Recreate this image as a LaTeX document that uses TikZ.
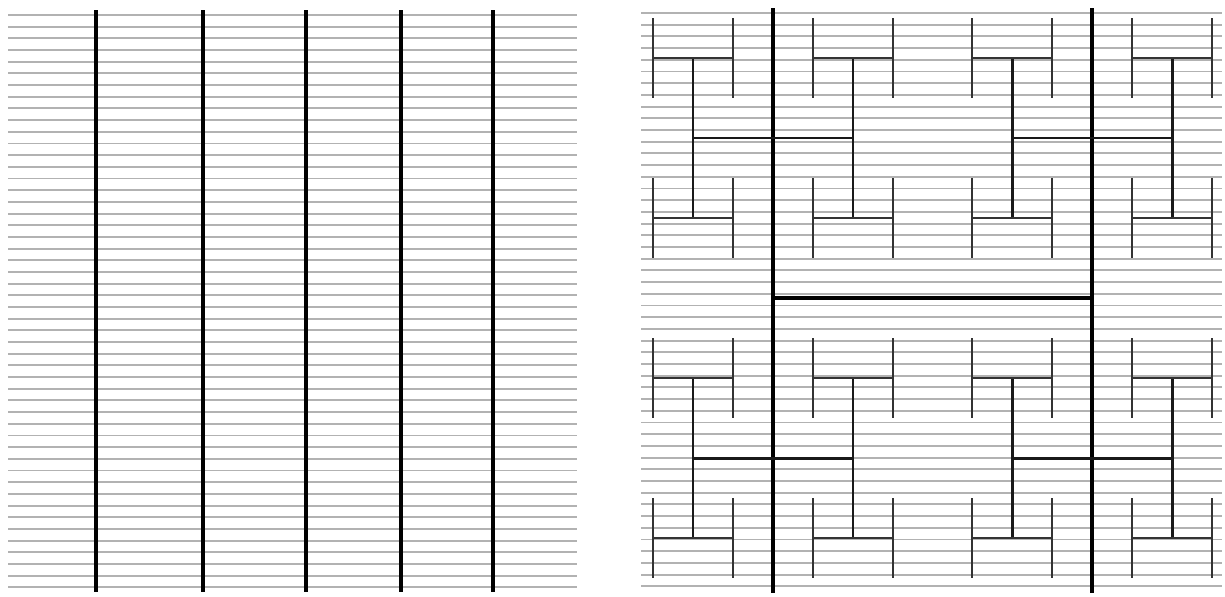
\documentclass[tikz,border=0pt]{standalone}
\usepackage{tikz}

\begin{document}
\begin{tikzpicture}[
    x=0.02cm, y=-0.02cm,
    track/.style={gray!60, line width=1.1pt},
    bus/.style={black, line width=2.8pt},
    trunk/.style={black, line width=2.3pt},
    branch/.style={black!90, line width=1.7pt},
    twig/.style={black!80, line width=1.3pt}
]
\useasboundingbox (0,0) rectangle (1225,596);

% left panel: rows and straight columns
\foreach \i in {0,...,49}
  \draw[track] (8,{15+11.68*\i}) -- (577,{15+11.68*\i});
\foreach \x in {96,203,306,401,493}
  \draw[bus] (\x,10) -- (\x,592);

% right panel: rows and H-tree
\foreach \i in {0,...,49}
  \draw[track] (641,{13+11.7*\i}) -- (1222,{13+11.7*\i});
\draw[trunk] (773,8) -- (773,593);
\draw[trunk] (1092,8) -- (1092,593);
\draw[trunk] (773,298) -- (1092,298);
\foreach \x in {773,1092}
  \foreach \y in {138,458} {
    \draw[branch] ({\x-80},\y) -- ({\x+80},\y);
    \foreach \dx in {-80,80} {
      \draw[branch] ({\x+\dx},{\y-80}) -- ({\x+\dx},{\y+80});
      \foreach \dy in {-80,80} {
        \draw[twig] ({\x+\dx-40},{\y+\dy}) -- ({\x+\dx+40},{\y+\dy});
        \draw[twig] ({\x+\dx-40},{\y+\dy-40}) -- ({\x+\dx-40},{\y+\dy+40});
        \draw[twig] ({\x+\dx+40},{\y+\dy-40}) -- ({\x+\dx+40},{\y+\dy+40});
      }
    }
  }
\end{tikzpicture}
\end{document}
